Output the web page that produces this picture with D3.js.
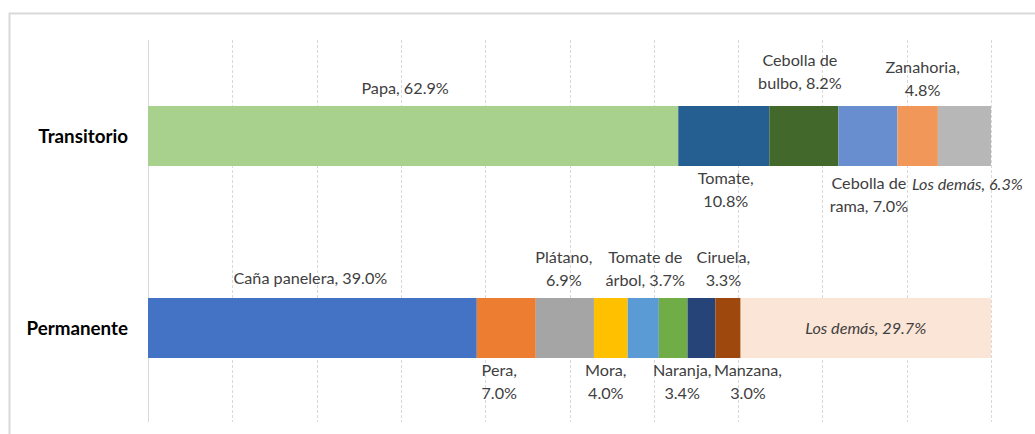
<!DOCTYPE html>
<html>
<head>
<meta charset="utf-8">
<script src="https://cdn.jsdelivr.net/npm/d3@7"></script>
<style>
  body { margin: 0; background: #fff; }
  svg text { font-family: Lato, "Open Sans", sans-serif; }
</style>
</head>
<body>
<div id="chart"></div>
<script>
// data (share of area, %)
var categories = ["Transitorio", "Permanente"];

var transitorioNames = ["Papa", "Tomate", "Cebolla de bulbo", "Cebolla de rama", "Zanahoria", "Los demás"];
var transitorioValues = [62.9, 10.8, 8.2, 7.0, 4.8, 6.3];

var permanenteNames = ["Caña panelera", "Pera", "Plátano", "Mora", "Tomate de árbol", "Naranja", "Ciruela", "Manzana", "Los demás"];
var permanenteValues = [39.0, 7.0, 6.9, 4.0, 3.7, 3.4, 3.3, 3.0, 29.7];

var gridTicks = [0, 10, 20, 30, 40, 50, 60, 70, 80, 90, 100];

// styling / label placement (not data)
var transitorioColors = ["#A9D18E", "#255E91", "#43682B", "#698ED0", "#F1975A", "#B7B7B7"];
var permanenteColors = ["#4472C4", "#ED7D31", "#A5A5A5", "#FFC000", "#5B9BD5", "#70AD47", "#264478", "#9E480E", "#FBE5D6"];
// where the label sits: a = above, b = below, i = inside
var transitorioPlace = ["a", "b", "a", "b", "a", "b"];
var permanentePlace = ["a", "b", "a", "b", "a", "b", "a", "b", "i"];
// words on the first line when the label wraps (0 = no wrap)
var transitorioWrap = [0, 1, 2, 2, 1, 0];
var permanenteWrap = [0, 1, 1, 1, 2, 1, 1, 1, 0];
// small nudges, like the hand-placed labels in the source
var transitorioNudge = [-8, 2, -4, 1, 5, 3];
var transitorioLift = [0, 0, 5, -5, -2, 0];
var permanenteNudge = [-2, -7, -1, -5, 2, 9, 22, 20, 0];
var permanenteLift = [2, 0, 0, 0, 0, 0, 0, 0, 0];

var width = 1035, height = 434;

var svg = d3.select("#chart").append("svg")
    .attr("width", width)
    .attr("height", height);

// outer frame
svg.append("rect")
    .attr("x", 9.5).attr("y", 13.5)
    .attr("width", 1040).attr("height", 440)
    .attr("fill", "none")
    .attr("stroke", "#d9d9d9")
    .attr("stroke-width", 2);

var x = d3.scaleLinear().domain([0, 100]).range([148, 991]);

var y = d3.scaleBand()
    .domain(categories)
    .range([40, 424])
    .paddingInner(0.6875)
    .paddingOuter(0.34375);

// gridlines
svg.append("g").selectAll("line")
    .data(gridTicks)
    .enter()
    .append("line")
    .attr("x1", function(d) { return Math.round(x(d)) + 0.5; })
    .attr("x2", function(d) { return Math.round(x(d)) + 0.5; })
    .attr("y1", 40)
    .attr("y2", 422)
    .attr("stroke", "#d9d9d9")
    .attr("stroke-dasharray", function(d) { return d === 0 ? null : "3,2"; });

// category labels
svg.append("g").selectAll("text")
    .data(categories)
    .enter()
    .append("text")
    .attr("x", 128)
    .attr("y", function(d) { return y(d) + y.bandwidth() / 2; })
    .attr("dy", "0.35em")
    .attr("text-anchor", "end")
    .attr("font-weight", "bold")
    .attr("font-size", "18.8px")
    .attr("fill", "#000")
    .text(function(d) { return d; });

function buildRows(names, values, colors, place, wrap, nudge, lift) {
    var acc = 0;
    return names.map(function(n, i) {
        var r = { name: n, value: values[i], start: acc, color: colors[i],
                  place: place[i], wrap: wrap[i], nudge: nudge[i], lift: lift[i] };
        acc += values[i];
        return r;
    });
}

var rowsByCat = {
    "Transitorio": buildRows(transitorioNames, transitorioValues, transitorioColors, transitorioPlace, transitorioWrap, transitorioNudge, transitorioLift),
    "Permanente": buildRows(permanenteNames, permanenteValues, permanenteColors, permanentePlace, permanenteWrap, permanenteNudge, permanenteLift)
};

var fmt = d3.format(".1f");
var lineH = 23;

categories.forEach(function(cat) {
    var rows = rowsByCat[cat];
    var g = svg.append("g");

    g.selectAll("rect")
        .data(rows)
        .enter()
        .append("rect")
        .attr("x", function(d) { return x(d.start); })
        .attr("y", y(cat))
        .attr("width", function(d) { return x(d.start + d.value) - x(d.start); })
        .attr("height", y.bandwidth())
        .attr("fill", function(d) { return d.color; });

    var top = y(cat), bottom = y(cat) + y.bandwidth();

    rows.forEach(function(d) {
        var label = d.name + ", " + fmt(d.value) + "%";
        var lines;
        if (d.wrap > 0) {
            var words = label.split(" ");
            lines = [words.slice(0, d.wrap).join(" "), words.slice(d.wrap).join(" ")];
        } else {
            lines = [label];
        }
        var cx = x(d.start + d.value / 2) + d.nudge;
        var italic = d.name === "Los demás";
        var y0;
        if (d.place === "a") {
            y0 = top - 12 - (lines.length - 1) * lineH;
        } else if (d.place === "b") {
            y0 = bottom + 18;
        } else {
            y0 = (top + bottom) / 2 + 6;
        }
        if (italic && d.place === "b") y0 = bottom + 24;
        y0 -= d.lift;

        var t = g.append("text")
            .attr("text-anchor", "middle")
            .attr("font-size", "16.2px")
            .attr("fill", "#404040")
            .attr("font-style", italic ? "italic" : null);
        lines.forEach(function(l, k) {
            t.append("tspan")
                .attr("x", cx)
                .attr("y", y0 + k * lineH)
                .text(l);
        });
    });
});
</script>
</body>
</html>
